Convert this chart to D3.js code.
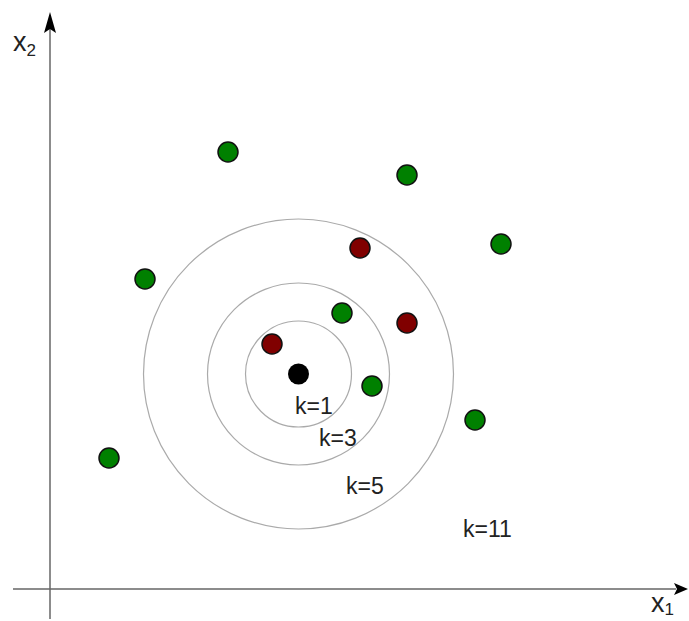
<!DOCTYPE html>
<html><head><meta charset="utf-8">
<script src="https://cdn.jsdelivr.net/npm/d3@7"></script>
<style>html,body{margin:0;padding:0;background:#fff;}svg{display:block;}</style>
</head><body>
<script>
// Data (abstract feature-space units)
const greenX = [17.8, 35.7, 45.1, 9.5, 29.2, 32.2, 42.5, 5.9];
const greenY = [43.7, 41.4, 34.5, 31.0, 27.6, 20.3, 16.9, 13.1];
const redX = [31.0, 35.7, 22.2];
const redY = [34.1, 26.6, 24.5];
const queryPoint = [24.85, 21.5];
const ringRadii = [5.3, 9.1, 15.5];
const kLabels = ["k=1", "k=3", "k=5", "k=11"];
const kLabelX = [24.5, 26.9, 29.6, 41.3];
const kLabelY = [17.5, 14.3, 9.5, 5.2];

const W = 689, H = 621;
const svg = d3.select("body").append("svg").attr("width", W).attr("height", H);

const x = d3.scaleLinear().domain([0, 63.8]).range([50, 688]);
const y = d3.scaleLinear().domain([0, 57.7]).range([589, 12]);
const unit = x(1) - x(0);

// axes
const axisColor = "#666";
svg.append("line").attr("x1", x(-3.7)).attr("x2", x(62.6)).attr("y1", y(0)).attr("y2", y(0))
  .attr("stroke", axisColor).attr("stroke-width", 1.5);
svg.append("line").attr("x1", x(0)).attr("x2", x(0)).attr("y1", y(-3)).attr("y2", y(56))
  .attr("stroke", axisColor).attr("stroke-width", 1.5);
// arrowheads
const yt = [x(0), y(57.7)];
svg.append("path").attr("d", `M${yt[0]},${yt[1]} L${yt[0]+6},${yt[1]+21} L${yt[0]},${yt[1]+17} L${yt[0]-6},${yt[1]+21} Z`).attr("fill", "#000");
const xt = [x(63.8), y(0)];
svg.append("path").attr("d", `M${xt[0]},${xt[1]} L${xt[0]-14},${xt[1]-6} L${xt[0]-11},${xt[1]} L${xt[0]-14},${xt[1]+6} Z`).attr("fill", "#000");

// axis labels
const lab2 = svg.append("text").attr("x", 13).attr("y", 51).attr("font-family", "Liberation Sans, Arial, sans-serif")
  .attr("font-size", 27).attr("fill", "#222");
lab2.append("tspan").text("x");
lab2.append("tspan").attr("font-size", 17).attr("dy", 5).text("2");
const lab1 = svg.append("text").attr("x", 651).attr("y", 612).attr("font-family", "Liberation Sans, Arial, sans-serif")
  .attr("font-size", 27).attr("fill", "#222");
lab1.append("tspan").text("x");
lab1.append("tspan").attr("font-size", 17).attr("dy", 3).text("1");

// rings
svg.selectAll("circle.ring").data(ringRadii).enter().append("circle").attr("class", "ring")
  .attr("cx", x(queryPoint[0])).attr("cy", y(queryPoint[1])).attr("r", d => d * unit)
  .attr("fill", "none").attr("stroke", "#aaa").attr("stroke-width", 1.2);

// k labels
svg.selectAll("text.k").data(kLabels).enter().append("text").attr("class", "k")
  .attr("x", (d, i) => x(kLabelX[i])).attr("y", (d, i) => y(kLabelY[i]))
  .attr("font-family", "Liberation Sans, Arial, sans-serif").attr("font-size", 23).attr("fill", "#222")
  .text(d => d);

// points
const pr = 10;
svg.selectAll("circle.g").data(greenX).enter().append("circle").attr("class", "g")
  .attr("cx", d => x(d)).attr("cy", (d, i) => y(greenY[i])).attr("r", pr)
  .attr("fill", "#008000").attr("stroke", "#111").attr("stroke-width", 1.5);
svg.selectAll("circle.r").data(redX).enter().append("circle").attr("class", "r")
  .attr("cx", d => x(d)).attr("cy", (d, i) => y(redY[i])).attr("r", pr)
  .attr("fill", "#800000").attr("stroke", "#111").attr("stroke-width", 1.5);
svg.append("circle").attr("cx", x(queryPoint[0])).attr("cy", y(queryPoint[1])).attr("r", pr + 0.5)
  .attr("fill", "#000");
</script>
</body></html>
